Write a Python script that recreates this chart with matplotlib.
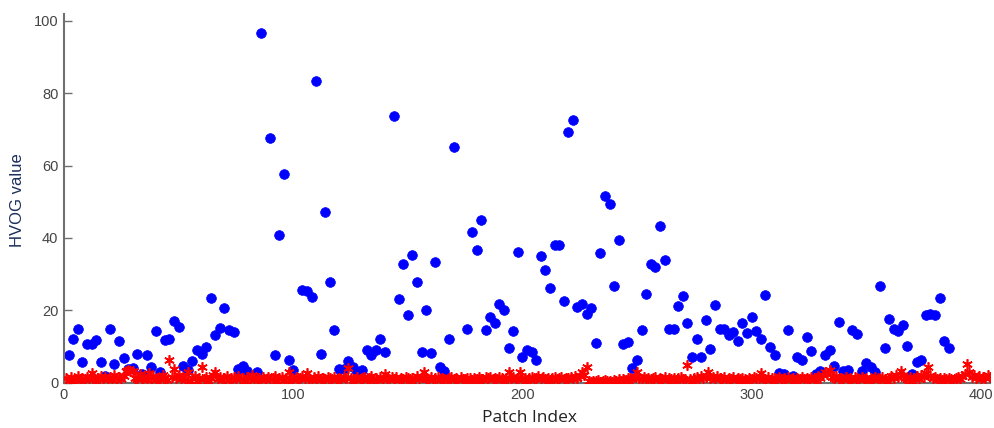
import matplotlib
matplotlib.use("Agg")
import matplotlib.pyplot as plt

# Blue dots: patch index and HVOG value
blue_idx = [2, 4, 6, 8, 10, 12, 14, 16, 18, 20, 22, 24, 26, 28, 30, 32, 34, 36, 38, 40,
            42, 44, 46, 48, 50, 52, 54, 56, 58, 60, 62, 64, 66, 68, 70, 72, 74, 76, 78, 80,
            84, 86, 90, 92, 94, 96, 98, 100, 104, 106, 108, 110, 112, 114, 116, 118, 120, 122, 124, 126,
            128, 130, 132, 134, 136, 138, 140, 144, 146, 148, 150, 152, 154, 156, 158, 160, 162, 164, 166, 168,
            170, 176, 178, 180, 182, 184, 186, 188, 190, 192, 194, 196, 198, 200, 202, 204, 206, 208, 210, 212,
            214, 216, 218, 220, 222, 224, 226, 228, 230, 232, 234, 236, 238, 240, 242, 244, 246, 248, 250, 252,
            254, 256, 258, 260, 262, 264, 266, 268, 270, 272, 274, 276, 278, 280, 282, 284, 286, 288, 290, 292,
            294, 296, 298, 300, 302, 304, 306, 308, 310, 312, 314, 316, 318, 320, 322, 324, 326, 328, 330, 332,
            334, 336, 338, 340, 342, 344, 346, 348, 350, 352, 354, 356, 358, 360, 362, 364, 366, 368, 370, 372,
            374, 376, 378, 380, 382, 384, 386]
blue_val = [7.6, 12.2, 14.7, 5.7, 10.6, 10.6, 11.9, 5.7, 1.9, 14.7, 5.1, 11.6, 6.8, 3.8, 4.0, 7.9, 2.4, 7.6, 4.3, 14.2,
            3.0, 11.9, 12.2, 17.0, 15.5, 4.6, 3.4, 6.0, 9.1, 7.9, 9.9, 23.3, 13.3, 15.0, 20.7, 14.6, 13.9, 3.9, 4.6, 3.2,
            2.9, 96.6, 67.7, 7.6, 40.7, 57.7, 6.3, 3.4, 25.5, 25.2, 23.8, 83.4, 7.9, 47.2, 27.7, 14.5, 3.7, 3.8, 6.1, 4.2,
            3.0, 3.5, 9.0, 7.6, 9.0, 12.2, 8.5, 73.7, 23.2, 32.8, 18.7, 35.3, 27.7, 8.5, 20.1, 8.1, 33.3, 4.2, 3.3, 12.2,
            65.2, 14.7, 41.6, 36.6, 44.9, 14.5, 18.2, 16.4, 21.8, 20.1, 9.7, 14.2, 36.2, 7.1, 9.0, 8.6, 6.3, 35.0, 31.1, 26.1,
            38.0, 38.0, 22.7, 69.3, 72.6, 21.0, 21.7, 19.0, 20.7, 11.1, 35.9, 51.6, 49.3, 26.6, 39.3, 10.7, 11.3, 4.0, 6.3, 14.5,
            24.4, 32.8, 32.0, 43.3, 33.9, 14.7, 14.9, 21.3, 24.0, 16.4, 7.1, 12.2, 7.1, 17.3, 9.3, 21.5, 14.7, 14.7, 13.1, 14.0,
            11.4, 16.4, 13.6, 18.2, 14.2, 12.2, 24.1, 10.0, 7.6, 2.8, 2.5, 14.5, 1.8, 7.2, 6.2, 12.5, 8.8, 2.5, 3.3, 7.6,
            9.0, 4.6, 16.8, 3.3, 3.5, 14.5, 13.4, 3.3, 5.4, 4.3, 3.0, 26.7, 9.7, 17.6, 14.7, 14.4, 15.9, 10.2, 2.4, 5.7,
            6.3, 18.7, 19.0, 18.7, 23.5, 11.6, 9.6]

# Red asterisks: value for every patch index 1..404
red_val = [
    1.2, 0.8, 1.5, 0.6, 1.1, 1.8, 0.7, 1.3, 0.9, 1.6, 1.0, 2.6, 1.4, 0.8, 1.2, 1.9, 0.9, 1.5, 1.1, 1.7,
    0.8, 2.0, 1.2, 1.5, 0.9, 1.8, 3.2, 3.4, 3.2, 3.1, 1.4, 0.9, 2.3, 1.1, 1.6, 0.8, 2.6, 1.2, 1.9, 0.7,
    1.4, 1.0, 2.2, 1.3, 0.8, 6.3, 1.5, 3.7, 1.2, 2.0, 0.9, 1.6, 1.1, 3.0, 0.6, 1.4, 1.8, 0.5, 1.2, 4.2,
    1.0, 1.7, 0.6, 1.3, 2.0, 3.0, 1.1, 1.6, 0.8, 1.4, 1.9, 0.7, 1.2, 1.5, 0.9, 1.8, 1.0, 1.3, 0.6, 1.6,
    1.1, 2.0, 0.8, 1.4, 1.2, 0.7, 1.7, 1.0, 1.5, 0.9, 1.3, 1.8, 0.6, 1.2, 1.6, 0.8, 1.4, 3.0, 1.1, 0.7,
    1.5, 0.9, 1.2, 1.8, 1.0, 2.7, 1.3, 0.8, 1.6, 1.1, 1.9, 0.7, 1.4, 1.0, 1.7, 1.2, 0.8, 1.5, 1.1, 1.3,
    0.9, 1.6, 1.2, 4.0, 1.4, 0.8, 1.1, 1.7, 0.9, 1.3, 1.5, 0.7, 1.2, 1.8, 1.0, 1.4, 0.8, 1.6, 1.1, 2.3,
    1.2, 0.9, 1.5, 1.1, 1.7, 0.8, 1.3, 1.0, 1.6, 1.2, 0.7, 1.4, 1.1, 1.8, 0.9, 1.5, 3.0, 1.3, 1.0, 1.6,
    0.8, 1.2, 1.5, 0.9, 1.4, 1.1, 0.7, 1.3, 1.6, 1.0, 1.2, 0.8, 1.5, 1.1, 0.9, 1.4, 1.2, 0.7, 1.3, 1.0,
    1.6, 1.1, 0.8, 1.5, 1.2, 1.7, 0.9, 1.3, 1.0, 1.6, 1.4, 0.8, 1.2, 2.9, 1.1, 1.5, 0.9, 1.3, 2.9, 1.0,
    1.4, 0.8, 1.2, 1.6, 1.0, 1.3, 1.8, 0.9, 1.5, 1.1, 1.4, 0.8, 1.2, 1.7, 1.0, 1.3, 1.6, 0.9, 1.4, 1.2,
    1.5, 1.1, 1.8, 1.3, 1.9, 3.0, 2.0, 4.4, 0.5, 0.3, 0.6, 0.4, 0.7, 0.3, 0.5, 0.8, 0.4, 0.6, 0.3, 0.7,
    0.5, 0.9, 0.6, 1.0, 0.8, 1.2, 1.4, 1.0, 1.6, 2.9, 1.3, 1.1, 1.7, 1.0, 1.4, 0.9, 1.2, 1.5, 0.8, 1.3,
    1.1, 1.6, 0.7, 1.2, 1.0, 1.4, 0.8, 1.3, 1.5, 0.9, 1.1, 4.9, 1.0, 0.5, 1.3, 1.6, 1.0, 1.8, 1.2, 1.5,
    2.9, 1.3, 1.7, 1.0, 1.9, 1.4, 1.1, 1.6, 0.8, 1.3, 1.0, 1.5, 0.7, 1.2, 0.9, 1.4, 1.1, 0.8, 1.3, 1.0,
    1.5, 1.2, 0.9, 2.6, 1.3, 1.0, 1.6, 0.8, 1.2, 1.4, 0.9, 1.7, 1.1, 1.3, 0.8, 1.5, 1.0, 1.2, 0.7, 1.4,
    1.1, 1.6, 0.9, 1.3, 1.0, 1.5, 0.8, 1.2, 1.8, 1.4, 2.2, 3.0, 2.4, 3.5, 1.6, 1.2, 1.9, 1.0, 1.4, 1.1,
    1.7, 1.0, 1.3, 0.8, 1.5, 1.2, 0.9, 1.6, 1.1, 1.4, 0.8, 1.3, 1.0, 1.7, 1.2, 0.9, 1.5, 1.1, 0.6, 1.4,
    1.8, 1.2, 2.0, 1.5, 3.3, 2.2, 1.4, 1.0, 1.7, 0.6, 1.3, 1.8, 1.1, 2.1, 1.5, 2.6, 4.2, 1.9, 1.2, 1.6,
    1.0, 1.4, 0.8, 1.2, 0.9, 1.3, 1.1, 0.7, 1.2, 1.5, 1.0, 1.8, 2.4, 5.2, 3.0, 1.6, 2.0, 1.3, 1.8, 1.1,
    1.7, 1.4, 2.0, 1.5]
red_idx = list(range(1, len(red_val) + 1))

x_ticks = [0, 100, 200, 300, 400]
y_ticks = [0, 20, 40, 60, 80, 100]

fig = plt.figure(figsize=(9.95, 4.28), dpi=100)
ax = fig.add_axes([64 / 995, 45.3 / 428, 926 / 995, 369.2 / 428])

ax.plot(blue_idx, blue_val, linestyle='none', marker='o', markersize=7.0,
        color='#0000ff', markeredgecolor='#0000ff', markeredgewidth=0.5, zorder=2)
ax.plot(red_idx, red_val, linestyle='none', marker=(6, 2, 0), markersize=7.5,
        color='#ff0000', markeredgecolor='#ff0000', markeredgewidth=1.2, zorder=3)

ax.set_xlim(0, 404)
ax.set_ylim(0, 102)
ax.set_xticks(x_ticks)
ax.set_yticks(y_ticks)

axis_col = '#707070'
for s in ['top', 'right']:
    ax.spines[s].set_visible(False)
for s in ['left', 'bottom']:
    ax.spines[s].set_color(axis_col)
    ax.spines[s].set_linewidth(1.5)
ax.tick_params(direction='in', length=6, width=1.0, color=axis_col,
               labelcolor='#444444', labelsize=10.5, pad=4)
for lab in ax.get_xticklabels() + ax.get_yticklabels():
    lab.set_family('Liberation Sans')

fig.text(18 / 995, 1 - 200 / 428, 'HVOG value', rotation=90, ha='center', va='center',
         fontsize=12, color='#1a2f5a', family='Liberation Sans')
fig.text(530 / 995, 1 - 418 / 428, 'Patch Index', ha='center', va='center',
         fontsize=12.5, color='#222222', family='Open Sans')

fig.savefig('out.png', dpi=100)
